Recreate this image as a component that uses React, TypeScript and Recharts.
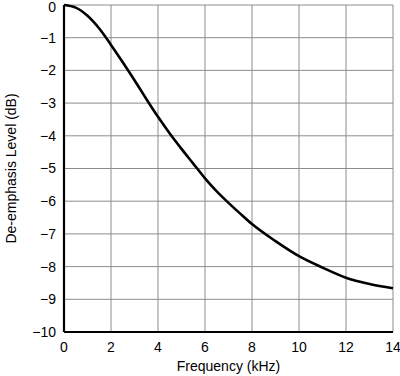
import React from "react";
import { LineChart, Line, XAxis, YAxis, CartesianGrid } from "recharts";

const freqKHz = [0, 0.5, 1, 1.5, 2, 2.5, 3, 3.5, 4, 4.5, 5, 5.5, 6, 6.5, 7, 7.5, 8, 9, 10, 11, 12, 13, 14];
const levelDb = [0, -0.08, -0.33, -0.72, -1.22, -1.75, -2.3, -2.87, -3.42, -3.93, -4.4, -4.85, -5.3, -5.7, -6.05, -6.38, -6.7, -7.22, -7.68, -8.03, -8.34, -8.53, -8.66];
const xTicks = [0, 2, 4, 6, 8, 10, 12, 14];
const yTicks = [0, -1, -2, -3, -4, -5, -6, -7, -8, -9, -10];
const xTitle = "Frequency (kHz)";
const yTitle = "De-emphasis Level (dB)";

const data = freqKHz.map((f, i) => ({ f, v: levelDb[i] }));

const FONT = "'Liberation Sans', Arial, sans-serif";
const fmtY = (v: number) => (v < 0 ? "\u2212" + Math.abs(v) : String(v));

const YTick = (props: any) => {
  const { x, y, payload } = props;
  const v = payload.value as number;
  const shift = v === 0 ? 2 : 0;
  return (
    <text
      x={x}
      y={y + shift}
      dy="0.355em"
      textAnchor="end"
      fill="#000"
      fontSize={14}
      fontFamily={FONT}
    >
      {fmtY(v)}
    </text>
  );
};

const YTitle = (props: any) => {
  const vb = props.viewBox || {};
  const cx = 11;
  const cy = (vb.y ?? 0) + (vb.height ?? 0) / 2;
  return (
    <text
      x={cx}
      y={cy}
      transform={`rotate(-90, ${cx}, ${cy})`}
      textAnchor="middle"
      dominantBaseline="central"
      fill="#000"
      fontSize={14}
      fontFamily={FONT}
    >
      {yTitle}
    </text>
  );
};

export default function App() {
  return (
    <div style={{ position: "absolute", left: 0, top: 0, background: "#fff" }}>
      <LineChart width={400} height={376} data={data} margin={{ top: 5, right: 7, bottom: 0, left: 0 }}>
        <CartesianGrid stroke="#8c8c8c" strokeWidth={1} />
        <XAxis
          xAxisId="top"
          orientation="top"
          dataKey="f"
          type="number"
          domain={[0, 14]}
          ticks={xTicks}
          tick={false}
          tickLine={false}
          height={0}
          axisLine={{ stroke: "#000", strokeWidth: 2.2 }}
        />
        <YAxis
          yAxisId="right"
          orientation="right"
          type="number"
          domain={[-10, 0]}
          ticks={yTicks}
          tick={false}
          tickLine={false}
          width={0}
          axisLine={{ stroke: "#000", strokeWidth: 2.2 }}
        />
        <XAxis
          dataKey="f"
          type="number"
          domain={[0, 14]}
          ticks={xTicks}
          interval={0}
          tickLine={false}
          tickSize={6}
          tickMargin={4}
          height={44}
          axisLine={{ stroke: "#000", strokeWidth: 2.2 }}
          tick={{ fill: "#000", fontSize: 14, fontFamily: FONT }}
          label={{ value: xTitle, position: "insideBottom", offset: 5, fill: "#000", fontSize: 14, fontFamily: FONT }}
        />
        <YAxis
          type="number"
          domain={[-10, 0]}
          ticks={yTicks}
          interval={0}
          tickLine={false}
          width={64}
          axisLine={{ stroke: "#000", strokeWidth: 2.2 }}
          tick={<YTick />}
          label={<YTitle />}
        />
        <Line
          dataKey="v"
          type="monotone"
          stroke="#000"
          strokeWidth={2.6}
          dot={false}
          isAnimationActive={false}
        />
      </LineChart>
    </div>
  );
}
